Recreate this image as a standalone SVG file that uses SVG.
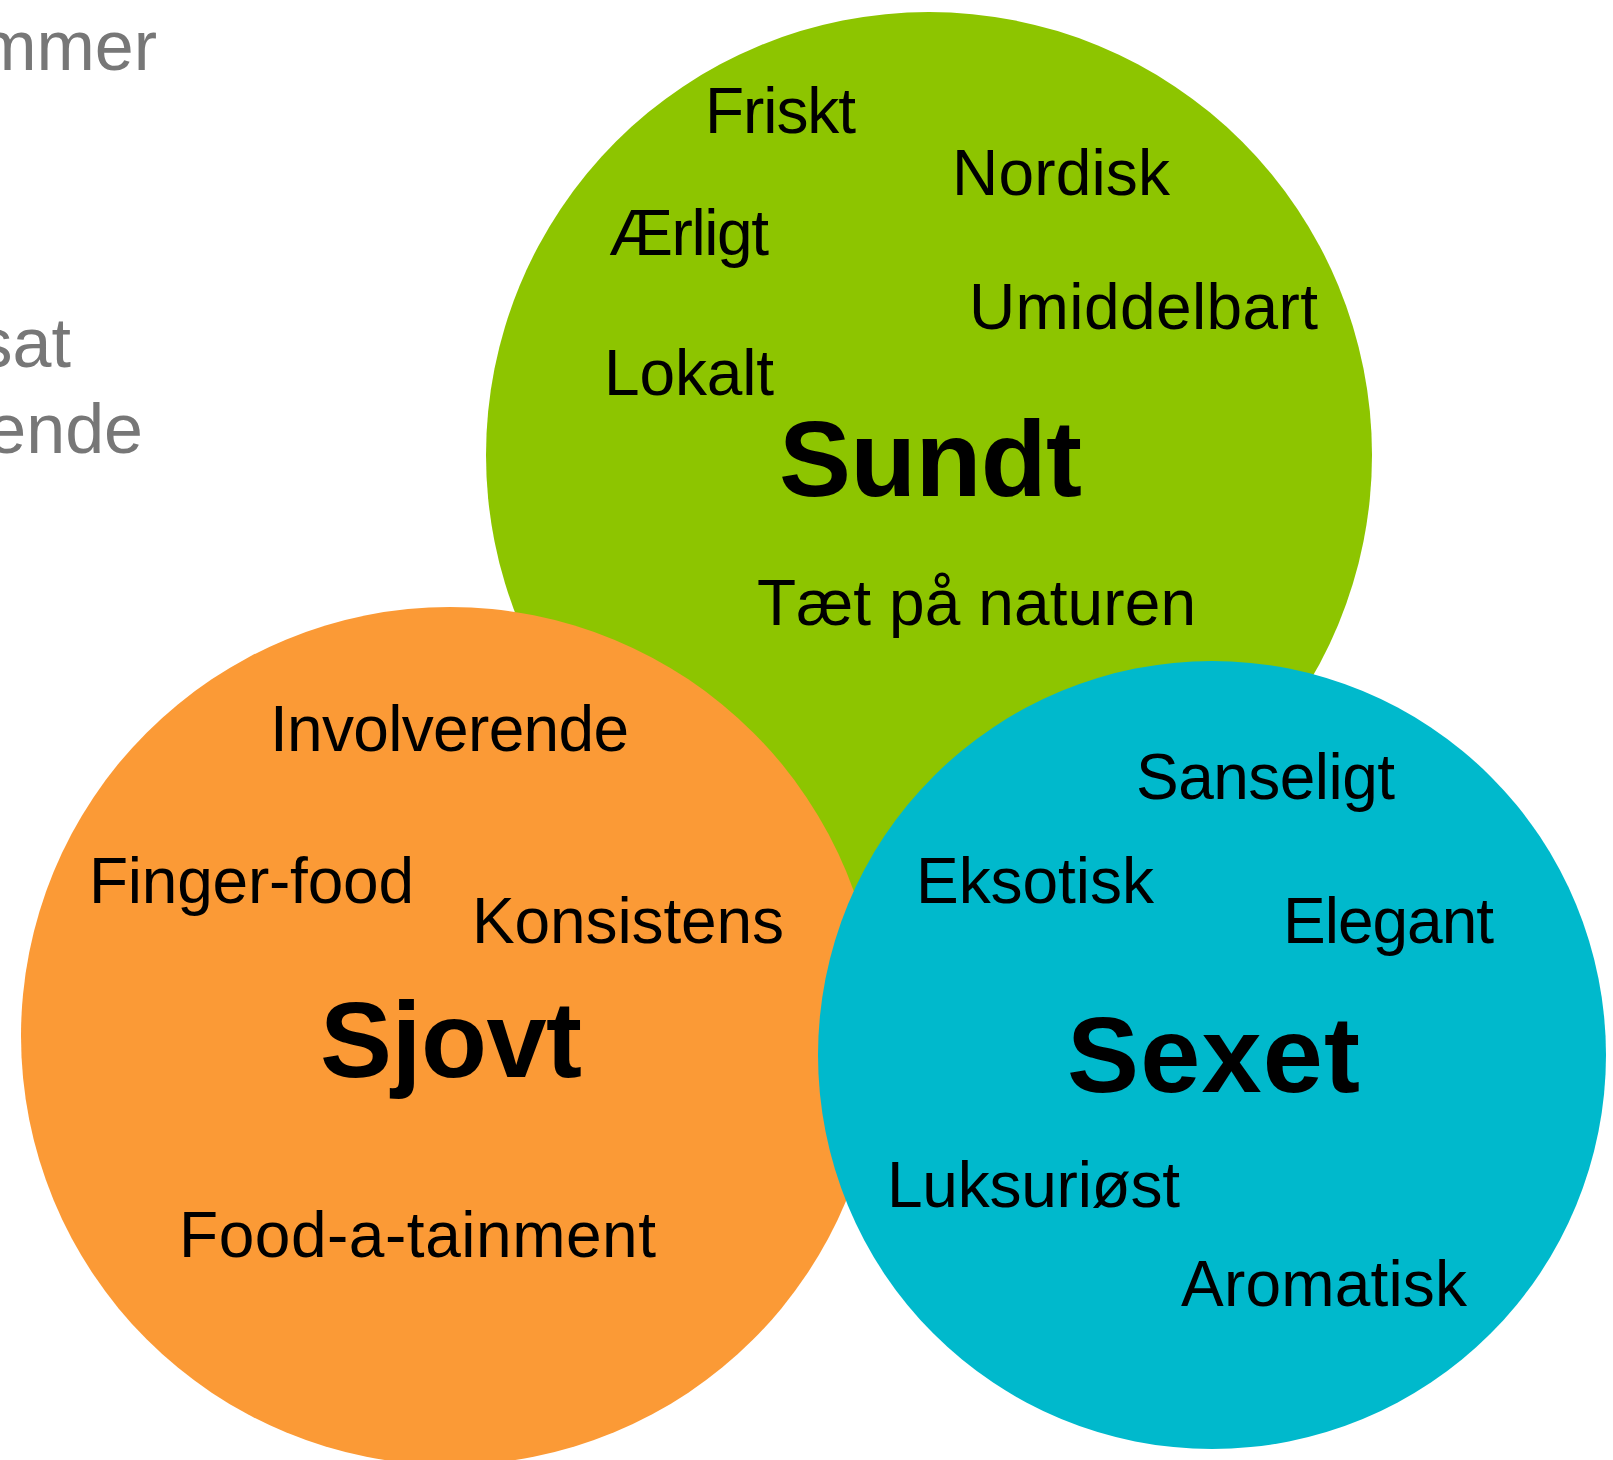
<svg xmlns="http://www.w3.org/2000/svg" width="1613" height="1460" viewBox="0 0 1613 1460">
<style>
.w{font-family:"Liberation Sans",Arial,Helvetica,sans-serif;font-size:64px;fill:#000}
.b{font-family:"Liberation Sans",Arial,Helvetica,sans-serif;font-size:108px;font-weight:bold;fill:#000}
.g{font-family:"Liberation Sans",Arial,Helvetica,sans-serif;font-size:70px;fill:#777;text-anchor:end}
</style>
<rect width="1613" height="1460" fill="#fff"/>
<g id="side-text">
<text class="g" x="157" y="70">mmer</text>
<text class="g" x="71" y="367">sat</text>
<text class="g" x="143" y="453">ende</text>
</g>
<g id="sundt">
<circle cx="929" cy="455" r="443" fill="#8DC500"/>
<text class="w" x="705" y="133" textLength="151" lengthAdjust="spacing">Friskt</text>
<text class="w" x="952" y="195" textLength="218" lengthAdjust="spacing">Nordisk</text>
<text class="w" x="609" y="255" textLength="160" lengthAdjust="spacing">Ærligt</text>
<text class="w" x="969" y="329" textLength="349" lengthAdjust="spacing">Umiddelbart</text>
<text class="w" x="604" y="395" textLength="170" lengthAdjust="spacing">Lokalt</text>
<text class="b" x="779" y="496" textLength="303" lengthAdjust="spacing">Sundt</text>
<text class="w" x="757" y="625" textLength="439" lengthAdjust="spacing">Tæt på naturen</text>
</g>
<g id="sjovt">
<circle cx="450" cy="1036" r="429" fill="#FB9A36"/>
<text class="w" x="270" y="751" textLength="359" lengthAdjust="spacing">Involverende</text>
<text class="w" x="89" y="903" textLength="325" lengthAdjust="spacing">Finger-food</text>
<text class="w" x="472" y="943" textLength="312" lengthAdjust="spacing">Konsistens</text>
<text class="b" x="320" y="1077" textLength="262" lengthAdjust="spacing">Sjovt</text>
<text class="w" x="179" y="1257" textLength="477" lengthAdjust="spacing">Food-a-tainment</text>
</g>
<g id="sexet">
<circle cx="1212" cy="1055" r="394" fill="#00B9CC"/>
<text class="w" x="1136" y="799" textLength="259" lengthAdjust="spacing">Sanseligt</text>
<text class="w" x="916" y="903" textLength="238" lengthAdjust="spacing">Eksotisk</text>
<text class="w" x="1283" y="943" textLength="211" lengthAdjust="spacing">Elegant</text>
<text class="b" x="1067" y="1092" textLength="293" lengthAdjust="spacing">Sexet</text>
<text class="w" x="887" y="1207" textLength="293" lengthAdjust="spacing">Luksuriøst</text>
<text class="w" x="1181" y="1306" textLength="286" lengthAdjust="spacing">Aromatisk</text>
</g>
<g id="connectors"/>
</svg>
